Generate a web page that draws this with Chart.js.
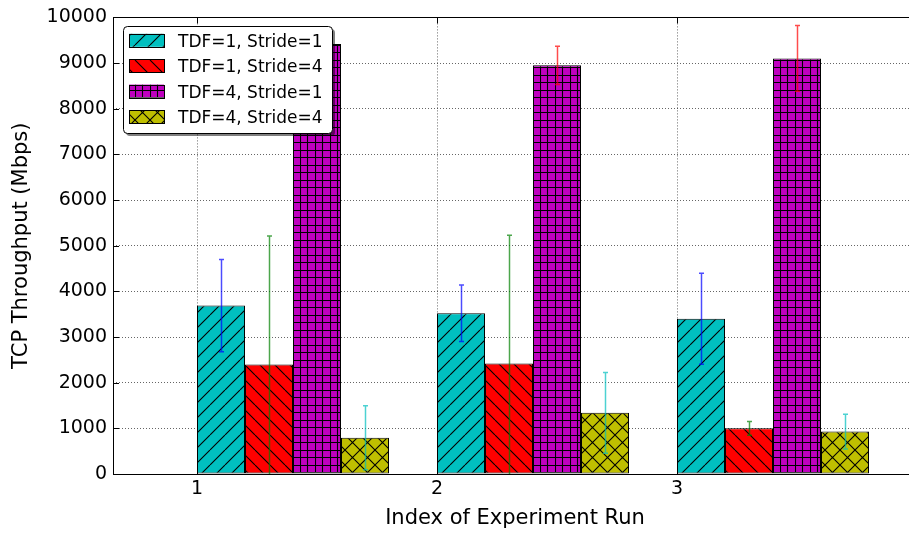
<!DOCTYPE html>
<html>
<head>
<meta charset="utf-8">
<script src="https://cdn.jsdelivr.net/npm/chart.js@4.4.0/dist/chart.umd.min.js"></script>
<style>
html, body { margin: 0; padding: 0; background: #fff; overflow: hidden; }
#wrap { width: 920px; height: 533px; }
</style>
</head>
<body>
<div id="wrap"><canvas id="chart"></canvas></div>
<script>
// Dane
var runs = [1, 2, 3];
var seriesLabels = ['TDF=1, Stride=1', 'TDF=1, Stride=4', 'TDF=4, Stride=1', 'TDF=4, Stride=4'];

var tdf1Stride1 = [3690, 3520, 3400];
var tdf1Stride1Err = [1010, 620, 995];
var tdf1Stride4 = [2400, 2420, 1000];
var tdf1Stride4Err = [2810, 2810, 150];
var tdf4Stride1 = [9420, 8950, 9100];
var tdf4Stride1Err = [300, 420, 720];
var tdf4Stride4 = [795, 1340, 930];
var tdf4Stride4Err = [700, 885, 380];

var yMin = 0, yMax = 10000, yStep = 1000;
var xMin = 0.65, xMax = 4.0;
var groupOffset = 0.4; // słupki zaczynają się przy ticku (align='edge')

var FONT = 'DejaVu Sans';

var ctx = document.getElementById('chart').getContext('2d');

// Wzory kreskowania jak w matplotlib
function makeHatch(fill, kind) {
    var size = 15;
    var c = document.createElement('canvas');
    c.width = size;
    c.height = size;
    var g = c.getContext('2d');
    g.fillStyle = fill;
    g.fillRect(0, 0, size, size);
    g.strokeStyle = '#000';
    g.lineWidth = 1.1;
    g.beginPath();
    var k;
    if (kind === '/' || kind === 'x') {
        for (k = -1; k <= 1; k++) { g.moveTo(k * size, size); g.lineTo(k * size + size, 0); }
    }
    if (kind === '\\' || kind === 'x') {
        for (k = -1; k <= 1; k++) { g.moveTo(k * size, 0); g.lineTo(k * size + size, size); }
    }
    if (kind === '+') {
        [0.5, 7.5].forEach(function(p) {
            g.moveTo(p, 0); g.lineTo(p, size);
            g.moveTo(0, p); g.lineTo(size, p);
        });
    }
    g.stroke();
    return ctx.createPattern(c, 'repeat');
}

var hatches = [
    makeHatch('#00BFBF', '/'),
    makeHatch('#FF0000', '\\'),
    makeHatch('#BF00BF', '+'),
    makeHatch('#BFBF00', 'x')
];
var errorColors = ['rgba(0,0,255,0.7)', 'rgba(0,128,0,0.7)', 'rgba(255,0,0,0.7)', 'rgba(0,191,191,0.7)'];

var values = [tdf1Stride1, tdf1Stride4, tdf4Stride1, tdf4Stride4];
var errors = [tdf1Stride1Err, tdf1Stride4Err, tdf4Stride1Err, tdf4Stride4Err];

var datasets = values.map(function(vals, i) {
    return {
        label: seriesLabels[i],
        data: runs.map(function(r, j) { return { x: r + groupOffset, y: vals[j] }; }),
        errors: errors[i],
        errorColor: errorColors[i],
        backgroundColor: hatches[i],
        borderColor: '#000',
        borderWidth: 1,
        borderSkipped: false,
        categoryPercentage: 0.8,
        barPercentage: 1.0
    };
});

// Słupki błędów
var errorBarPlugin = {
    id: 'errorBars',
    afterDatasetsDraw: function(chart) {
        var c = chart.ctx, y = chart.scales.y, a = chart.chartArea;
        c.save();
        c.beginPath();
        c.rect(a.left, a.top, a.right - a.left, a.bottom - a.top);
        c.clip();
        chart.data.datasets.forEach(function(ds, i) {
            var meta = chart.getDatasetMeta(i);
            meta.data.forEach(function(bar, j) {
                var v = ds.data[j].y, e = ds.errors[j];
                var top = y.getPixelForValue(v + e);
                var bot = y.getPixelForValue(v - e);
                var x = Math.round(bar.x) + 0.5;
                c.strokeStyle = ds.errorColor;
                c.lineWidth = 1.5;
                c.beginPath();
                c.moveTo(x, top); c.lineTo(x, bot);
                c.moveTo(x - 2.5, top); c.lineTo(x + 2.5, top);
                c.moveTo(x - 2.5, bot); c.lineTo(x + 2.5, bot);
                c.stroke();
            });
        });
        c.restore();
    }
};

// Ramka osi i ticki do środka
var framePlugin = {
    id: 'frame',
    afterDatasetsDraw: function(chart) {
        var c = chart.ctx, a = chart.chartArea;
        c.save();
        c.strokeStyle = '#000';
        c.lineWidth = 1;
        c.beginPath();
        chart.scales.y.ticks.forEach(function(t) {
            var py = Math.round(chart.scales.y.getPixelForValue(t.value)) + 0.5;
            c.moveTo(a.left, py); c.lineTo(a.left + 6, py);
        });
        chart.scales.x.ticks.forEach(function(t) {
            var px = Math.round(chart.scales.x.getPixelForValue(t.value)) + 0.5;
            c.moveTo(px, a.bottom); c.lineTo(px, a.bottom - 6);
            c.moveTo(px, a.top); c.lineTo(px, a.top + 6);
        });
        c.stroke();
        c.strokeRect(Math.round(a.left) + 0.5, Math.round(a.top) + 0.5,
            Math.round(a.right - a.left), Math.round(a.bottom - a.top));
        c.restore();
    }
};

// Legenda w lewym górnym rogu
var legendPlugin = {
    id: 'boxLegend',
    afterDraw: function(chart) {
        var c = chart.ctx;
        var bx = 123, by = 26, bw = 209, bh = 107, r = 4;
        function box(x, y) {
            c.beginPath();
            c.moveTo(x + r, y);
            c.arcTo(x + bw, y, x + bw, y + bh, r);
            c.arcTo(x + bw, y + bh, x, y + bh, r);
            c.arcTo(x, y + bh, x, y, r);
            c.arcTo(x, y, x + bw, y, r);
            c.closePath();
        }
        c.save();
        box(bx + 3, by + 3);
        c.fillStyle = 'rgba(0,0,0,0.5)';
        c.fill();
        box(bx + 0.5, by + 0.5);
        c.fillStyle = '#fff';
        c.fill();
        c.strokeStyle = '#000';
        c.lineWidth = 1;
        c.stroke();
        c.font = '17px "' + FONT + '"';
        c.textBaseline = 'alphabetic';
        c.textAlign = 'left';
        chart.data.datasets.forEach(function(ds, i) {
            var cy = 40.3 + i * 25.4;
            c.fillStyle = ds.backgroundColor;
            c.fillRect(129, cy - 6.5, 35, 13);
            c.strokeRect(129.5, Math.round(cy - 6.5) + 0.5, 35, 13);
            c.fillStyle = '#000';
            c.fillText(ds.label, 178, cy + 6.6);
        });
        c.restore();
    }
};

var chart = new Chart(ctx, {
    type: 'bar',
    data: { datasets: datasets },
    options: {
        responsive: true,
        maintainAspectRatio: false,
        animation: false,
        devicePixelRatio: 1,
        layout: { padding: { top: 17, right: 3, left: 0, bottom: 0 } },
        plugins: {
            legend: { display: false },
            tooltip: { enabled: false }
        },
        scales: {
            x: {
                type: 'linear',
                min: xMin,
                max: xMax,
                offset: false,
                afterBuildTicks: function(axis) {
                    axis.ticks = runs.map(function(v) { return { value: v }; });
                },
                afterFit: function(scale) { scale.height = 59; },
                ticks: {
                    color: '#000',
                    padding: 4,
                    font: { family: FONT, size: 19 },
                    callback: function(v) { return String(v); }
                },
                grid: {
                    offset: false,
                    drawTicks: false,
                    color: 'rgba(0,0,0,0.6)',
                    lineWidth: 1
                },
                border: { display: false, dash: [1, 2] },
                title: {
                    display: true,
                    text: 'Index of Experiment Run',
                    color: '#000',
                    font: { family: FONT, size: 21 },
                    padding: { top: 0, bottom: 2 }
                }
            },
            y: {
                min: yMin,
                max: yMax,
                afterFit: function(scale) { scale.width = 113; },
                ticks: {
                    stepSize: yStep,
                    color: '#000',
                    padding: 6,
                    font: { family: FONT, size: 19 },
                    callback: function(v) { return String(v); }
                },
                grid: {
                    drawTicks: false,
                    color: 'rgba(0,0,0,0.6)',
                    lineWidth: 1
                },
                border: { display: false, dash: [1, 2] },
                title: {
                    display: true,
                    text: 'TCP Throughput (Mbps)',
                    color: '#000',
                    font: { family: FONT, size: 21 },
                    padding: { top: 9, bottom: 0 }
                }
            }
        }
    },
    plugins: [errorBarPlugin, framePlugin, legendPlugin]
});
</script>
</body>
</html>
